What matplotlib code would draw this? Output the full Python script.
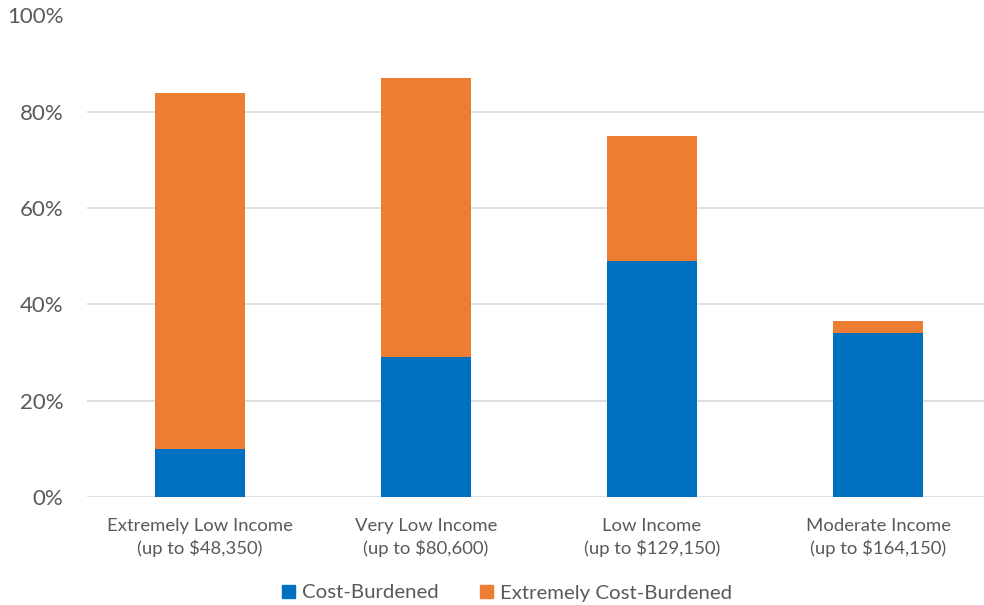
import matplotlib; matplotlib.use("Agg")
import matplotlib.pyplot as plt
from matplotlib.patches import Patch

categories = ["Extremely Low Income\n(up to $48,350)", "Very Low Income\n(up to $80,600)",
              "Low Income\n(up to $129,150)", "Moderate Income\n(up to $164,150)"]
cost_burdened = [10, 29, 49, 34]
extremely_cost_burdened = [74, 58, 26, 2.6]
yticks = [0, 20, 40, 60, 80, 100]

BLUE, ORANGE, GRID, TXT = "#0070C0", "#ED7D31", "#D9D9D9", "#595959"
plt.rcParams["font.family"] = ["Lato", "DejaVu Sans"]

fig = plt.figure(figsize=(9.84, 6.05), dpi=100)
ax = fig.add_axes([87 / 984, 1 - 497 / 605, 1 - 87 / 984, (497 - 15.5) / 605])
x = list(range(len(categories)))
ax.bar(x, cost_burdened, width=0.4, color=BLUE, zorder=3)
ax.bar(x, extremely_cost_burdened, width=0.4, bottom=cost_burdened, color=ORANGE, zorder=3)

ax.set_ylim(0, 100)
ax.set_xlim(-0.5, 3.5 - 7 / 226)
ax.set_yticks(yticks)
ax.set_yticklabels([f"{t}%" for t in yticks], fontsize=16, color=TXT)
ax.set_xticks(x)
ax.set_xticklabels(categories, fontsize=13.3, color=TXT, linespacing=1.4)
ax.tick_params(length=0)
ax.tick_params(axis="y", pad=17)
ax.tick_params(axis="x", pad=15)
ax.grid(axis="y", color=GRID, lw=1.2, zorder=0)
for s in ax.spines.values():
    s.set_visible(False)

handles = [Patch(color=BLUE, label="Cost-Burdened"),
           Patch(color=ORANGE, label="Extremely Cost-Burdened")]
fig.legend(handles=handles, loc="center", bbox_to_anchor=(507 / 984, 1 - 593 / 605), ncol=2,
           frameon=False, fontsize=14.7, handlelength=0.65, handleheight=0.65,
           handletextpad=0.35, columnspacing=2.0, labelcolor=TXT)

fig.savefig("out.png", dpi=100)
